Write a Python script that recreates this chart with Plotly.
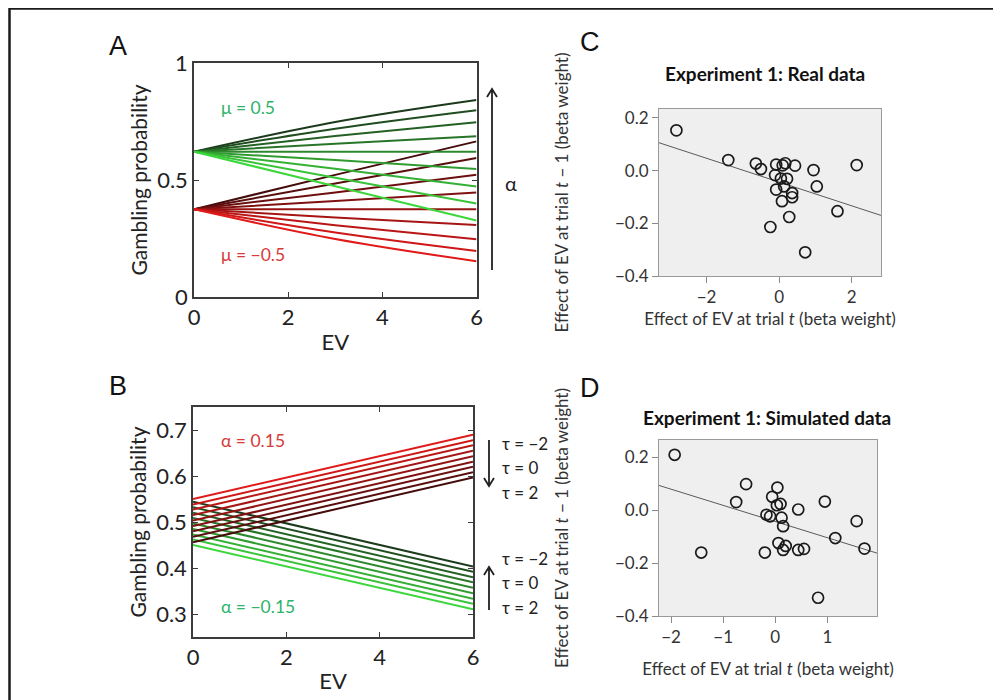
import plotly.graph_objects as go

W, H = 1001, 700
OFF = 8  # page body margin offset of the figure in the browser
def fx(p): return (p - OFF) / W
def fy(p): return 1 - (p - OFF) / H

# ---------------- Data ----------------
# Panel A: gambling probability vs EV (values read at EV = 0, 3, 6)
ev_a = [0, 3, 6]
a_green = [  # mu = 0.5, alpha from high (top) to low (bottom)
    [0.621, 0.748, 0.842],
    [0.621, 0.719, 0.798],
    [0.621, 0.688, 0.747],
    [0.621, 0.655, 0.687],
    [0.621, 0.621, 0.621],
    [0.621, 0.585, 0.547],
    [0.621, 0.548, 0.472],
    [0.621, 0.510, 0.400],
    [0.621, 0.473, 0.327],
]
a_red = [  # mu = -0.5
    [0.375, 0.522, 0.665],
    [0.375, 0.485, 0.594],
    [0.375, 0.447, 0.522],
    [0.375, 0.410, 0.447],
    [0.375, 0.375, 0.375],
    [0.375, 0.340, 0.308],
    [0.375, 0.307, 0.247],
    [0.375, 0.276, 0.197],
    [0.375, 0.248, 0.153],
]

# Panel B: values at EV = 0 and EV = 6
ev_b = [0, 6]
b_red_start = [0.550, 0.538, 0.527, 0.515, 0.503, 0.491, 0.480, 0.468, 0.456]
b_red_end = [0.690, 0.678, 0.667, 0.655, 0.643, 0.631, 0.620, 0.608, 0.597]
b_green_start = [0.544, 0.532, 0.520, 0.509, 0.497, 0.485, 0.473, 0.462, 0.450]
b_green_end = [0.403, 0.392, 0.380, 0.369, 0.357, 0.345, 0.333, 0.322, 0.310]

# Panel C: real data
c_x = [-2.83, -1.40, -0.64, -0.50, -0.08, 0.17, 0.10, 0.44, 0.95, 2.14,
       -0.11, 0.22, 0.05, -0.08, 1.04, 0.36, 0.36, 0.08, 0.28, -0.24, 1.61, 0.72, 0.14]
c_y = [0.153, 0.040, 0.027, 0.006, 0.023, 0.028, 0.020, 0.019, 0.002, 0.021,
       -0.017, -0.031, -0.030, -0.072, -0.060, -0.085, -0.101, -0.116, -0.176, -0.214, -0.154, -0.310, -0.060]
c_fit_x = [-3.31, 2.81]
c_fit_y = [0.106, -0.170]

# Panel D: simulated data
d_x = [-1.93, -0.56, -0.75, -1.42, 0.04, -0.06, 0.10, 0.03, -0.17, -0.10, 0.12, 0.15,
       0.44, 0.95, 1.56, 1.15, 1.71, 0.06, 0.20, 0.15, -0.20, 0.44, 0.55, 0.82]
d_y = [0.210, 0.099, 0.031, -0.160, 0.086, 0.051, 0.024, 0.019, -0.017, -0.023, -0.028, -0.060,
       0.003, 0.033, -0.041, -0.105, -0.145, -0.124, -0.135, -0.150, -0.160, -0.150, -0.146, -0.331]
d_fit_x = [-2.23, 1.95]
d_fit_y = [0.094, -0.162]

# ---------------- Styles ----------------
def mix(c1, c2, t):
    return "rgb(%d,%d,%d)" % tuple(round(a + (b - a) * t) for a, b in zip(c1, c2))

DARK_G, BRIGHT_G = (28, 58, 28), (60, 215, 60)
DARK_R, BRIGHT_R = (70, 12, 12), (225, 25, 25)
FONT = "Lato"

fig = go.Figure()

n = len(a_green)
# Panel A
for i in range(n):
    t = i / (n - 1)
    fig.add_trace(go.Scatter(x=ev_a, y=a_red[i], mode="lines", line=dict(color=mix(DARK_R, BRIGHT_R, t), width=2, shape="spline"),
                             xaxis="x", yaxis="y", showlegend=False, hoverinfo="skip"))
for i in range(n):
    t = i / (n - 1)
    fig.add_trace(go.Scatter(x=ev_a, y=a_green[i], mode="lines", line=dict(color=mix(DARK_G, BRIGHT_G, t), width=2, shape="spline"),
                             xaxis="x", yaxis="y", showlegend=False, hoverinfo="skip"))
# Panel B
for i in range(n):
    t = i / (n - 1)
    fig.add_trace(go.Scatter(x=ev_b, y=[b_red_start[i], b_red_end[i]], mode="lines",
                             line=dict(color=mix(BRIGHT_R, DARK_R, t), width=2),
                             xaxis="x2", yaxis="y2", showlegend=False, hoverinfo="skip"))
    fig.add_trace(go.Scatter(x=ev_b, y=[b_green_start[i], b_green_end[i]], mode="lines",
                             line=dict(color=mix(DARK_G, BRIGHT_G, t), width=2),
                             xaxis="x2", yaxis="y2", showlegend=False, hoverinfo="skip"))

# Panel C
fig.add_trace(go.Scatter(x=c_fit_x, y=c_fit_y, mode="lines", line=dict(color="#5a5a5a", width=1),
                         xaxis="x3", yaxis="y3", showlegend=False))
fig.add_trace(go.Scatter(x=c_x, y=c_y, mode="markers",
                         marker=dict(symbol="circle-open", size=11, color="#1a1a1a", line=dict(width=1.7)),
                         xaxis="x3", yaxis="y3", showlegend=False))
# Panel D
fig.add_trace(go.Scatter(x=d_fit_x, y=d_fit_y, mode="lines", line=dict(color="#5a5a5a", width=1),
                         xaxis="x4", yaxis="y4", showlegend=False))
fig.add_trace(go.Scatter(x=d_x, y=d_y, mode="markers",
                         marker=dict(symbol="circle-open", size=11, color="#1a1a1a", line=dict(width=1.7)),
                         xaxis="x4", yaxis="y4", showlegend=False))

axcol = "#3c3c3c"
def lin_ax(dom, rng, tv, tt, anchor, title=None, standoff=None, tsize=21):
    d = dict(domain=dom, range=rng, tickvals=tv, ticktext=tt, anchor=anchor,
             showline=True, linecolor=axcol, linewidth=1.5, mirror="ticks",
             ticks="inside", ticklen=5, tickcolor=axcol, tickwidth=1,
             showgrid=False, zeroline=False, fixedrange=True, automargin=False,
             tickfont=dict(family=FONT, size=22, color="#222"))
    if title:
        d["title"] = dict(text=title, font=dict(family=FONT, size=tsize, color="#222"), standoff=standoff)
    return d

def sc_ax(dom, rng, tv, tt, anchor, title, standoff):
    return dict(domain=dom, range=rng, tickvals=tv, ticktext=tt, anchor=anchor,
                showline=True, linecolor="#9a9a9a", linewidth=1, mirror=True,
                ticks="outside", ticklen=6, tickcolor="#8a8a8a", tickwidth=1,
                showgrid=False, zeroline=False, fixedrange=True, automargin=False,
                tickfont=dict(family=FONT, size=17, color="#333"),
                title=dict(text=title, font=dict(family=FONT, size=17, color="#333"), standoff=standoff))

fig.update_layout(
    width=W, height=H, margin=dict(l=0, r=0, t=0, b=0, autoexpand=False),
    paper_bgcolor="white", plot_bgcolor="white",
    xaxis=lin_ax([fx(194), fx(476.5)], [0, 6], [0, 2, 4, 6], ["0", "2", "4", "6"], "y", "EV", 5, 22),
    yaxis=lin_ax([fy(297), fy(63)], [0, 1], [0, 0.5, 1], ["0", "0.5", "1"], "x", "Gambling probability", 4),
    xaxis2=lin_ax([fx(193), fx(473)], [0, 6], [0, 2, 4, 6], ["0", "2", "4", "6"], "y2", "EV", 4, 22),
    yaxis2=lin_ax([fy(637), fy(407)], [0.25, 0.75], [0.3, 0.4, 0.5, 0.6, 0.7],
                  ["0.3", "0.4", "0.5", "0.6", "0.7"], "x2", "Gambling probability", 4),
    xaxis3=sc_ax([fx(659), fx(881)], [-3.31, 2.81], [-2, 0, 2], ["−2", "0", "2"], "y3",
                 "Effect of EV at trial <i>t</i> (beta weight)", 6),
    yaxis3=sc_ax([fy(276), fy(109)], [-0.4, 0.234], [-0.4, -0.2, 0.0, 0.2], ["−0.4", "−0.2", "0.0", "0.2"], "x3",
                 "Effect of EV at trial <i>t</i> − 1 (beta weight)", 42),
    xaxis4=sc_ax([fx(659), fx(877)], [-2.23, 1.95], [-2, -1, 0, 1], ["−2", "−1", "0", "1"], "y4",
                 "Effect of EV at trial <i>t</i> (beta weight)", 16),
    yaxis4=sc_ax([fy(616), fy(440)], [-0.4, 0.266], [-0.4, -0.2, 0.0, 0.2], ["−0.4", "−0.2", "0.0", "0.2"], "x4",
                 "Effect of EV at trial <i>t</i> − 1 (beta weight)", 42),
)
# light-gray plotting area for C and D
shapes = []
for x0, x1, y0, y1 in [(659, 881, 109, 276), (659, 877, 440, 616)]:
    shapes.append(dict(type="rect", xref="paper", yref="paper", x0=fx(x0), x1=fx(x1), y0=fy(y1), y1=fy(y0),
                       fillcolor="#efefef", line=dict(width=0), layer="below"))
# outer frame
shapes.append(dict(type="rect", xref="paper", yref="paper", x0=fx(9.5), x1=fx(998), y0=fy(712), y1=fy(8.6),
                   line=dict(color="#1a1a1a", width=2.5)))

def arrow_path(x, y_tail, y_tip):
    d = 8 if y_tip < y_tail else -8
    return ("M %f,%f L %f,%f M %f,%f L %f,%f L %f,%f" %
            (fx(x), fy(y_tail), fx(x), fy(y_tip),
             fx(x - 5), fy(y_tip + d), fx(x), fy(y_tip), fx(x + 5), fy(y_tip + d)))

for x, yt, yp in [(492, 270, 89), (489, 440, 486), (489, 610, 567)]:
    shapes.append(dict(type="path", xref="paper", yref="paper", path=arrow_path(x, yt, yp),
                       line=dict(color="#222", width=1.8)))
fig.update_layout(shapes=shapes)

ann = []
def txt(x, y, s, size, color="#222", xanchor="left", font=FONT, bold=False):
    ann.append(dict(x=fx(x), y=fy(y), xref="paper", yref="paper", text=("<b>%s</b>" % s) if bold else s,
                    showarrow=False, xanchor=xanchor, yanchor="middle",
                    font=dict(family=font, size=size, color=color)))

for lab, x, y in [("A", 107, 46), ("B", 107, 386), ("C", 578, 42), ("D", 578, 388)]:
    txt(x, y, lab, 27, "#111", font="Liberation Sans")
txt(219, 108, "μ = 0.5", 17.5, "#2db36a")
txt(219, 254, "μ = −0.5", 17.5, "#d63a3a")
txt(219, 440, "α = 0.15", 17.5, "#d63a3a")
txt(219, 606, "α = −0.15", 17.5, "#2db36a")
txt(503, 183, "α", 20)
for y, s in [(443, "τ = −2"), (467, "τ = 0"), (492, "τ = 2"), (558, "τ = −2"), (582, "τ = 0"), (607, "τ = 2")]:
    txt(500, y, s, 17)
txt(765, 73, "Experiment 1: Real data", 19, "#111", xanchor="center", bold=True)
txt(767, 417, "Experiment 1: Simulated data", 19, "#111", xanchor="center", bold=True)
fig.update_layout(annotations=ann)

fig.write_html("out.html")
